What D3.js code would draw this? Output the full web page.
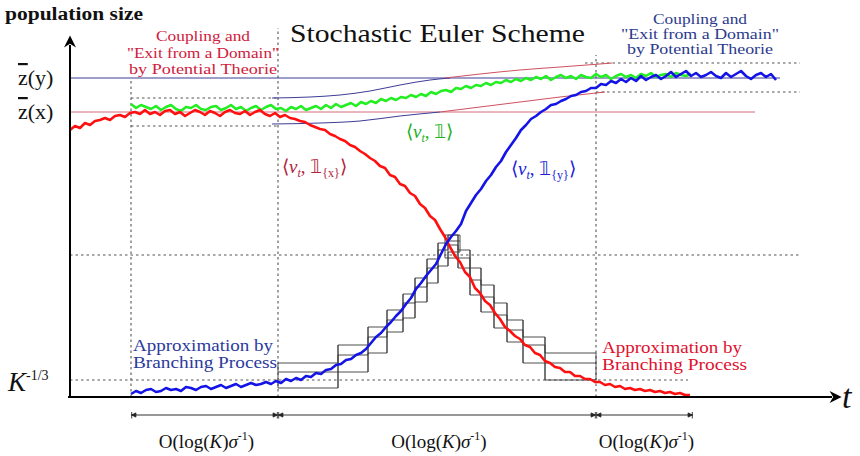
<!DOCTYPE html>
<html lang="en">
<head>
<meta charset="UTF-8">
<title>Stochastic Euler Scheme</title>
<script src="https://cdnjs.cloudflare.com/ajax/libs/d3/7.8.5/d3.min.js"></script>
<style>
  body { margin: 0; background: #fff; }
  svg text { font-family: "Liberation Serif", "Times New Roman", serif; }
</style>
</head>
<body>
<div id="chart"></div>
<script>
// time step of the simulated traces (in t units)
const stepT = 5;

// <nu_t, 1_{x}> starts at t = 0
const redStart = 0;
const redVals = [267,271,269,274,272,276,277,279,277,281,282,280,284,285,283,287,283,285,282,286,
  287,283,285,281,284,287,285,282,286,284,281,285,287,284,283,286,282,285,287,283,
  281,284,280,282,279,278,276,275,272,270,268,267,263,261,258,256,252,250,246,243,
  239,236,231,229,222,220,213,211,204,201,193,189,181,177,168,160,150,141,135,125,
  120,109,104,96,92,84,78,70,66,61,58,52,50,44,42,36,34,30,29,25,
  25,21,21,18,18,15,15,12,13,10,11,8,9,7,8,6,7,5,6,4,5,3,4,2,2];

// <nu_t, 1_{y}> starts at t = 61
const blueStart = 61;
const blueVals = [3,6,4,7,8,5,6,9,7,8,6,10,9,7,10,11,8,10,12,9,
  11,13,10,12,14,12,13,15,13,16,14,18,16,19,17,21,20,24,23,27,
  28,32,33,37,38,42,44,48,54,60,64,70,75,81,86,93,99,108,114,121,
  127,133,143,153,160,166,173,186,194,202,208,216,222,230,236,245,252,259,267,272,
  278,281,285,288,292,293,296,298,301,302,305,306,309,309,313,312,316,314,318,315,
  319,316,321,317,320,322,318,321,325,320,323,326,321,324,320,322,325,321,319,324,
  320,323,326,321,318,322,324,320,323,317];

// <nu_t, 1> starts at t = 61
const greenStart = 61;
const greenVals = [293,289,292,290,288,291,287,290,292,288,286,290,289,292,288,287,290,291,287,289,
  292,288,290,286,289,291,287,290,292,288,289,286,290,288,291,287,289,291,288,292,
  289,293,290,292,294,291,295,293,296,294,298,296,299,297,300,299,302,300,303,301,
  305,303,306,307,305,309,308,311,309,312,311,314,312,315,314,317,315,318,316,319,
  317,320,318,321,317,320,322,319,321,318,322,320,319,323,320,322,318,321,323,320,
  322,319,323,321,324,320,322,323,320,324,322,321,323];

// equilibrium levels zbar(y), zbar(x), mid level and K^{-1/3}
const zY = 319, zX = 285, midLevel = 142, kLevel = 17;
// dotted tubes around the equilibria
const tubeX = [271, 299];
const tubeY = [305, 334];
// phase boundaries (t)
const phases = [61, 208, 526, 623];

// deterministic envelopes [t, value]
const upperNavy = [[202,299],[240,300],[270,302],[300,306],[330,312],[360,317],[380,319]];
const upperRed  = [[375,319],[410,323],[450,327],[490,330],[530,333],[542,334]];
const lowerNavy = [[202,273],[250,274],[290,276],[330,281],[370,285]];
const lowerRed  = [[370,285],[410,290],[450,295],[490,300],[535,305]];

// branching-process staircases: breakpoints, end, upper/middle/lower levels
const upT = [208,268,298,317,333,345,357,368,378], upEnd = 390;
const upU = [34,52,70,87,103,119,138,154,162];
const upM = [25,42,60,77,94,110,129,147,156];
const upL = [9,25,44,65,79,95,114,131,145];
const downT = [375,388,400,411,424,437,453,475], downEnd = 526;
const downU = [162,147,129,112,94,77,60,44];
const downM = [152,139,117,100,82,67,52,34];
const downL = [139,129,102,85,69,55,34,17];

const W = 860, H = 456;
const x = d3.scaleLinear().domain([0, 780]).range([70, 850]);
const y = d3.scaleLinear().domain([0, 370]).range([397, 27]);

const svg = d3.select("#chart").append("svg").attr("width", W).attr("height", H);

const defs = svg.append("defs");
defs.append("marker").attr("id", "axarrow").attr("viewBox", "0 0 10 10")
  .attr("refX", 2).attr("refY", 5).attr("markerWidth", 7).attr("markerHeight", 6)
  .attr("markerUnits", "strokeWidth").attr("orient", "auto")
  .append("path").attr("d", "M0,0L10,5L0,10L3,5Z").attr("fill", "#000");
defs.append("marker").attr("id", "barend").attr("viewBox", "0 0 10 10")
  .attr("refX", 10).attr("refY", 5).attr("markerWidth", 7).attr("markerHeight", 7)
  .attr("markerUnits", "userSpaceOnUse").attr("orient", "auto-start-reverse")
  .append("path").attr("d", "M3,2L9,5L3,8Z M9,0V10").attr("fill", "#222").attr("stroke", "#222").attr("stroke-width", 1.2);

const dotted = (x1, y1, x2, y2) => svg.append("line")
  .attr("x1", x(x1)).attr("y1", y(y1)).attr("x2", x(x2)).attr("y2", y(y2))
  .attr("stroke", "#555").attr("stroke-width", 1.1).attr("stroke-dasharray", "2.5,3");

// dotted guides
dotted(phases[0], 0, phases[0], zY - 2);
dotted(phases[1], 0, phases[1], 369);
dotted(phases[2], 0, phases[2], 342);
dotted(0, midLevel, 730, midLevel);
dotted(0, kLevel, 618, kLevel);
dotted(phases[0], tubeX[1], phases[1], tubeX[1]);
dotted(phases[0], tubeX[0], phases[1], tubeX[0]);
dotted(515, tubeY[1], 730, tubeY[1]);
dotted(phases[2], tubeY[0], 730, tubeY[0]);

// equilibrium lines
svg.append("line").attr("x1", x(0)).attr("x2", x(710)).attr("y1", y(zY)).attr("y2", y(zY))
  .attr("stroke", "#3c3c96").attr("stroke-width", 1);
svg.append("line").attr("x1", x(0)).attr("x2", x(685)).attr("y1", y(zX)).attr("y2", y(zX))
  .attr("stroke", "#d46a78").attr("stroke-width", 1);

// envelopes
const smooth = d3.line().x(d => x(d[0])).y(d => y(d[1])).curve(d3.curveMonotoneX);
[[upperNavy, "#3c3c96"], [lowerNavy, "#3c3c96"], [upperRed, "#d0505f"], [lowerRed, "#d0505f"]]
  .forEach(([d, c]) => svg.append("path").attr("d", smooth(d)).attr("fill", "none")
    .attr("stroke", c).attr("stroke-width", 1));

// staircases
function stairs(ts, end, U, M, L) {
  const g = svg.append("g").attr("fill", "none").attr("stroke", "#3a3a3a").attr("stroke-width", 0.9);
  const step = d3.line().x(d => x(d[0])).y(d => y(d[1])).curve(d3.curveStepAfter);
  [U, M, L].forEach(lv => {
    const pts = ts.map((t, i) => [t, lv[i]]);
    pts.push([end, lv[lv.length - 1]]);
    g.append("path").attr("d", step(pts));
  });
  ts.forEach((t, i) => {
    const lo = i ? Math.min(L[i - 1], L[i]) : L[i];
    const hi = i ? Math.max(U[i - 1], U[i]) : U[i];
    g.append("line").attr("x1", x(t)).attr("x2", x(t)).attr("y1", y(lo)).attr("y2", y(hi));
  });
  g.append("line").attr("x1", x(end)).attr("x2", x(end))
    .attr("y1", y(L[L.length - 1])).attr("y2", y(U[U.length - 1]));
}
stairs(upT, upEnd, upU, upM, upL);
stairs(downT, downEnd, downU, downM, downL);

// noisy traces
const trace = (vals, start, color) => svg.append("path")
  .attr("d", d3.line().x((d, i) => x(start + i * stepT)).y(d => y(d))(vals))
  .attr("fill", "none").attr("stroke", color).attr("stroke-width", 2.6)
  .attr("stroke-linejoin", "round");
trace(greenVals, greenStart, "#22ee22");
trace(redVals, redStart, "#ff1010");
trace(blueVals, blueStart, "#1414e6");

// axes
svg.append("line").attr("x1", x(-2)).attr("y1", y(0)).attr("x2", x(762)).attr("y2", y(0))
  .attr("stroke", "#000").attr("stroke-width", 2).attr("marker-end", "url(#axarrow)");
svg.append("line").attr("x1", x(0)).attr("y1", y(-1)).attr("x2", x(0)).attr("y2", y(352))
  .attr("stroke", "#000").attr("stroke-width", 2).attr("marker-end", "url(#axarrow)");

// phase interval markers
d3.pairs(phases).forEach(([a, b]) => {
  svg.append("line").attr("x1", x(a)).attr("x2", x(b)).attr("y1", 415).attr("y2", 415)
    .attr("stroke", "#333").attr("stroke-width", 1)
    .attr("marker-start", "url(#barend)").attr("marker-end", "url(#barend)");
  const t = svg.append("text").attr("x", x((a + b) / 2) + 2).attr("y", 448)
    .attr("text-anchor", "middle").attr("font-size", 19).attr("fill", "#111");
  t.append("tspan").text("O(log(");
  t.append("tspan").attr("font-style", "italic").text("K");
  t.append("tspan").text(")");
  t.append("tspan").attr("font-style", "italic").text("σ");
  t.append("tspan").attr("font-size", 12).attr("dy", -8).text("-1");
  t.append("tspan").attr("dy", 8).text(")");
});

// labels
svg.append("text").attr("x", 5).attr("y", 20).attr("font-size", 18).attr("font-weight", "bold")
  .attr("textLength", 138).attr("lengthAdjust", "spacingAndGlyphs").attr("fill", "#111")
  .text("population size");
svg.append("text").attr("x", 290).attr("y", 42)
  .attr("font-size", 25).attr("textLength", 295).attr("lengthAdjust", "spacingAndGlyphs")
  .attr("fill", "#111").text("Stochastic Euler Scheme");

function block(lines, cx, y0, dy, color, widths, size) {
  lines.forEach((s, i) => svg.append("text").attr("x", cx - widths[i] / 2).attr("y", y0 + i * dy)
    .attr("font-size", size).attr("textLength", widths[i]).attr("lengthAdjust", "spacingAndGlyphs")
    .attr("fill", color).text(s));
}
const coupling = ["Coupling and", "\"Exit from a Domain\"", "by Potential Theorie"];
block(coupling, 203, 41, 16.5, "#d0203c", [94, 152, 148], 15);
block(coupling, 700, 24, 15, "#2b3a8c", [94, 158, 146], 14);

function leftBlock(lines, x0, y0, dy, color, widths) {
  lines.forEach((s, i) => svg.append("text").attr("x", x0).attr("y", y0 + i * dy)
    .attr("font-size", 16).attr("textLength", widths[i]).attr("lengthAdjust", "spacingAndGlyphs")
    .attr("fill", color).text(s));
}
const approx = ["Approximation by", "Branching Process"];
leftBlock(approx, 133, 351, 17, "#2b3a9c", [140, 144]);
leftBlock(approx, 602, 353, 17, "#e0102e", [140, 145]);

function zbar(arg, yy) {
  const t = svg.append("text").attr("x", 18).attr("y", y(yy) + 7).attr("font-size", 22).attr("fill", "#111");
  t.append("tspan").style("text-decoration", "overline").text("z");
  t.append("tspan").text("(" + arg + ")");
}
zbar("y", zY);
zbar("x", zX);

const kt = svg.append("text").attr("x", 8).attr("y", 391).attr("fill", "#111");
kt.append("tspan").attr("font-size", 27).attr("font-style", "italic").text("K");
kt.append("tspan").attr("font-size", 14).attr("dy", -11).text("-1/3");

svg.append("text").attr("x", 842).attr("y", 408).attr("font-size", 34)
  .attr("font-style", "italic").attr("fill", "#111").text("t");

function bracket(x0, yy, color, sub) {
  const t = svg.append("text").attr("x", x0).attr("y", yy)
    .attr("font-size", 19).attr("fill", color);
  t.append("tspan").text("⟨");
  t.append("tspan").attr("font-style", "italic").text("ν");
  t.append("tspan").attr("font-style", "italic").attr("font-size", 12).attr("dy", 4).text("t");
  t.append("tspan").attr("dy", -4).text(", ");
  t.append("tspan").text("𝟙");
  if (sub) t.append("tspan").attr("font-size", 12).attr("dy", 4).text(sub);
  t.append("tspan").attr("dy", sub ? -4 : 0).text("⟩");
}
bracket(406, 138, "#22b022", null);
bracket(282, 173, "#b0243c", "{x}");
bracket(511, 175, "#2020d8", "{y}");
</script>
</body>
</html>
